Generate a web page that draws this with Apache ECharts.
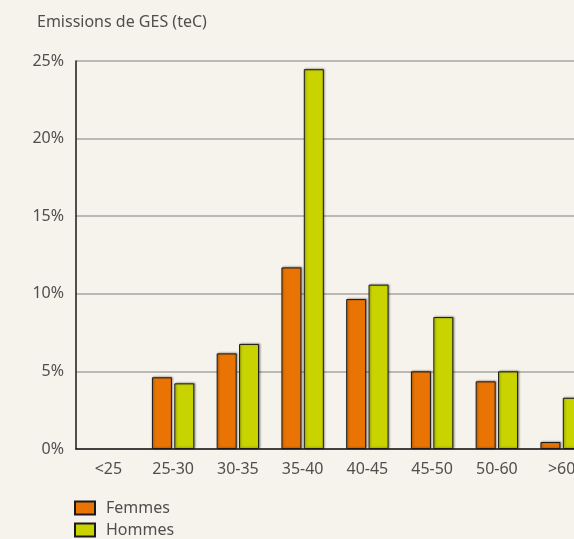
<!DOCTYPE html>
<html>
<head>
<meta charset="utf-8">
<script src="https://cdn.jsdelivr.net/npm/echarts@6/dist/echarts.min.js"></script>
<style>
  html, body { margin: 0; padding: 0; background: #f6f3ed; }
  #chart { width: 574px; height: 539px; }
</style>
</head>
<body>
<div id="chart"></div>
<script>
// Age brackets and share of GHG emissions (%) per bracket
const categories = ['<25', '25-30', '30-35', '35-40', '40-45', '45-50', '50-60', '>60'];
const femmes = [0, 4.62, 6.16, 11.7, 9.66, 5.0, 4.36, 0.45];
const hommes = [0, 4.23, 6.77, 24.47, 10.59, 8.5, 5.0, 3.3];
const yTicks = [0, 5, 10, 15, 20, 25];

const textColor = '#4f4f4f';
const font = 'Noto Sans';

const chart = echarts.init(document.getElementById('chart'), null, { renderer: 'canvas' });

const barStyle = (color) => ({
  color: color,
  borderColor: '#1a1a1a',
  borderWidth: 1,
  shadowColor: 'rgba(0,0,0,0.35)',
  shadowBlur: 2,
  shadowOffsetX: 1,
  shadowOffsetY: -0.5
});

// zero-height bars are left undrawn (no outline)
const toBarData = (arr) => arr.map((v) => v === 0
  ? { value: v, itemStyle: { borderWidth: 0, shadowBlur: 0, shadowOffsetX: 0, shadowOffsetY: 0 } }
  : v);

chart.setOption({
  backgroundColor: '#f6f3ed',
  animation: false,
  title: {
    text: 'Emissions de GES (teC)',
    left: 32,
    top: 9,
    textStyle: { color: textColor, fontFamily: font, fontSize: 16, fontWeight: 'normal' }
  },
  // the last bracket runs past the right edge of the page
  grid: { left: 76, width: 518, top: 61, bottom: 90, outerBoundsMode: 'none' },
  legend: {
    orient: 'vertical',
    left: 74,
    top: 499,
    height: 60,
    padding: 0,
    itemWidth: 20,
    itemHeight: 13,
    itemGap: 4,
    icon: 'rect',
    data: ['Femmes', 'Hommes'],
    textStyle: { color: textColor, fontFamily: font, fontSize: 16, lineHeight: 18, padding: [0, 0, 0, 6] }
  },
  xAxis: {
    type: 'category',
    data: categories,
    boundaryGap: true,
    axisLine: { lineStyle: { color: '#1a1a1a', width: 1.5 } },
    axisTick: { show: false },
    axisLabel: { color: textColor, fontFamily: font, fontSize: 16, margin: 12 }
  },
  yAxis: {
    type: 'value',
    min: 0,
    max: 25,
    interval: 5,
    axisLine: { show: true, lineStyle: { color: '#1a1a1a', width: 1.5 } },
    axisTick: { show: false },
    splitLine: { lineStyle: { color: '#a9a6a1', width: 1.5 } },
    axisLabel: {
      color: textColor, fontFamily: font, fontSize: 16, margin: 12,
      formatter: (v) => yTicks.includes(v) ? v + '%' : ''
    }
  },
  series: [
    {
      name: 'Femmes',
      type: 'bar',
      data: toBarData(femmes),
      barWidth: 20,
      barGap: '12%',
      itemStyle: barStyle('#e97404')
    },
    {
      name: 'Hommes',
      type: 'bar',
      data: toBarData(hommes),
      barWidth: 20,
      barGap: '12%',
      itemStyle: barStyle('#c8d300')
    }
  ]
});
</script>
</body>
</html>
